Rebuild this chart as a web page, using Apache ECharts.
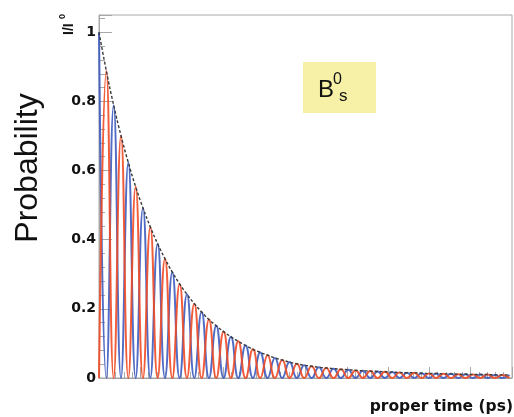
<!DOCTYPE html>
<html>
<head>
<meta charset="utf-8">
<script src="https://cdn.jsdelivr.net/npm/echarts@6/dist/echarts.min.js"></script>
<style>
  html, body { margin: 0; padding: 0; background: #fff; }
</style>
</head>
<body>
<div id="chart" style="width: 514px; height: 417px"></div>
<script>
// proper time (ps) of each peak, every half oscillation period
const peakTime = [
  0, 0.178, 0.355, 0.533, 0.71, 0.888, 1.065, 1.243, 1.42, 1.598,
  1.775, 1.953, 2.13, 2.308, 2.485, 2.663, 2.84, 3.018, 3.195, 3.373,
  3.55, 3.728, 3.905, 4.083, 4.26, 4.438, 4.615, 4.793, 4.97, 5.148,
  5.325, 5.503, 5.68, 5.858, 6.035, 6.213, 6.39, 6.568, 6.745, 6.923,
  7.1, 7.278, 7.455, 7.633, 7.81, 7.988, 8.165, 8.343, 8.52, 8.698,
  8.875, 9.053, 9.23, 9.408, 9.585, 9.763, 9.94
];
// height of the decay envelope at each peak
const peakValue = [
  1.000, 0.888, 0.789, 0.701, 0.623, 0.553, 0.492, 0.437, 0.388, 0.345,
  0.306, 0.272, 0.242, 0.215, 0.191, 0.169, 0.151, 0.134, 0.119, 0.106,
  0.094, 0.083, 0.074, 0.066, 0.058, 0.052, 0.046, 0.041, 0.037, 0.034,
  0.031, 0.029, 0.027, 0.025, 0.024, 0.022, 0.021, 0.020, 0.019, 0.018,
  0.017, 0.016, 0.015, 0.015, 0.014, 0.013, 0.013, 0.012, 0.012, 0.011,
  0.011, 0.010, 0.010, 0.010, 0.009, 0.009, 0.009
];
const yTicks = [0, 0.2, 0.4, 0.6, 0.8, 1];

// unmixed (blue) peaks on even half periods, mixed (red) on odd ones
const unmixed = peakTime.map((t, i) => [t, i % 2 === 0 ? peakValue[i] : 0]);
const mixed = peakTime.map((t, i) => [t, i % 2 === 1 ? peakValue[i] : 0]);
const envelope = peakTime.map((t, i) => [t, peakValue[i]]);

const chart = echarts.init(document.getElementById("chart"));
chart.setOption({
  animation: false,
  grid: {
    left: 99, right: 2, top: 15, bottom: 39,
    show: true, borderColor: "#a8a8a8", borderWidth: 1,
  },
  xAxis: {
    type: "value",
    min: 0,
    max: 10,
    interval: 1,
    axisLine: { lineStyle: { color: "#a0a0a0" } },
    axisTick: { inside: true, length: 11, lineStyle: { color: "#a8a8a8" } },
    minorTick: { show: true, splitNumber: 5, length: 6, lineStyle: { color: "#a8a8a8" } },
    axisLabel: { show: false },
    splitLine: { show: false },
  },
  yAxis: {
    type: "value",
    min: 0,
    max: 1.05,
    interval: 0.2,
    axisLine: { show: true, lineStyle: { color: "#a8a8a8" } },
    axisTick: { inside: true, length: 13, lineStyle: { color: "#a8a8a8" } },
    minorTick: { show: true, splitNumber: 5, length: 6, lineStyle: { color: "#a8a8a8" } },
    axisLabel: {
      margin: 3,
      showMaxLabel: false,
      fontSize: 14,
      fontWeight: "bold",
      fontFamily: "DejaVu Sans",
      color: "#111",
      formatter: function (v) {
        const t = yTicks.find((y) => Math.abs(y - v) < 1e-6);
        if (t === undefined) return "";
        return t === 0 || t === 1 ? String(t) : t.toFixed(1);
      },
    },
    splitLine: { show: false },
  },
  series: [
    {
      type: "line",
      data: unmixed,
      smooth: 0.5,
      showSymbol: false,
      lineStyle: { color: "#3f5cc0", width: 2, opacity: 0.9 },
      z: 3,
    },
    {
      type: "line",
      data: mixed,
      smooth: 0.5,
      showSymbol: false,
      lineStyle: { color: "#f04b25", width: 2, opacity: 0.9 },
      z: 4,
    },
    {
      type: "line",
      data: envelope,
      smooth: true,
      showSymbol: false,
      lineStyle: { color: "#3a3a3a", width: 1.4, type: [3, 2] },
      z: 5,
    },
  ],
  graphic: [
    {
      type: "text",
      x: 44, y: 168,
      rotation: Math.PI / 2,
      style: {
        text: "Probability",
        font: "32px Liberation Sans",
        fill: "#111",
        align: "center",
        verticalAlign: "bottom",
      },
    },
    {
      type: "text",
      x: 62, y: 35,
      rotation: Math.PI / 2,
      style: { text: "I/I", font: "bold 14px Liberation Sans", fill: "#111" },
    },
    {
      type: "text",
      x: 58, y: 19,
      rotation: Math.PI / 2,
      style: { text: "0", font: "bold 9px Liberation Sans", fill: "#111" },
    },
    {
      type: "rect",
      shape: { x: 303, y: 62, width: 73, height: 51 },
      style: { fill: "#f6f1a6" },
    },
    {
      type: "text",
      x: 318, y: 78,
      style: { text: "B", font: "24px Liberation Sans", fill: "#111" },
    },
    {
      type: "text",
      x: 333, y: 72,
      style: { text: "0", font: "16px Liberation Sans", fill: "#111" },
    },
    {
      type: "text",
      x: 339, y: 88,
      style: { text: "s", font: "17px Liberation Sans", fill: "#111" },
    },
    {
      type: "text",
      x: 513, y: 399,
      style: {
        text: "proper time (ps)",
        font: "bold 15.5px DejaVu Sans",
        fill: "#111",
        align: "right",
      },
    },
  ],
});
</script>
</body>
</html>
